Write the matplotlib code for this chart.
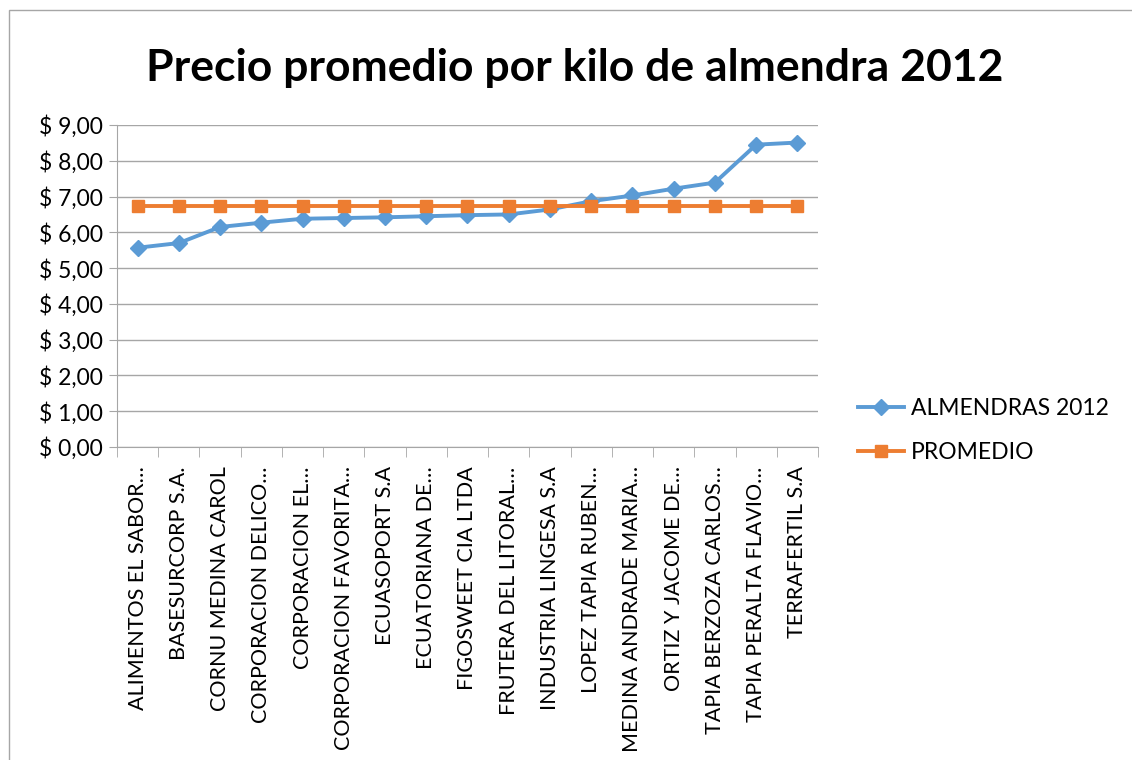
import matplotlib.pyplot as plt
import numpy as np
from matplotlib.patches import Rectangle

plt.rcParams['font.family'] = ['Lato', 'DejaVu Sans']

empresas = ["ALIMENTOS EL SABOR…", "BASESURCORP S.A.", "CORNU MEDINA CAROL",
            "CORPORACION DELICO…", "CORPORACION EL…", "CORPORACION FAVORITA…",
            "ECUASOPORT S.A", "ECUATORIANA DE…", "FIGOSWEET CIA LTDA",
            "FRUTERA DEL LITORAL…", "INDUSTRIA LINGESA S.A", "LOPEZ TAPIA RUBEN…",
            "MEDINA ANDRADE MARIA…", "ORTIZ Y JACOME DE…", "TAPIA BERZOZA CARLOS…",
            "TAPIA PERALTA FLAVIO…", "TERRAFERTIL S.A"]
almendras = [5.57, 5.70, 6.15, 6.27, 6.38, 6.40, 6.42, 6.45, 6.48,
             6.50, 6.64, 6.87, 7.03, 7.22, 7.39, 8.45, 8.51]
promedio = [6.73] * len(empresas)
yticks = [0, 1, 2, 3, 4, 5, 6, 7, 8, 9]
ylabels = ["$ %d,00" % v for v in yticks]

fig = plt.figure(figsize=(11.32, 7.6), dpi=100)
ax = fig.add_axes([117/1132, 1-447/760, (818-117)/1132, (447-125)/760])

x = np.arange(len(empresas))
ax.plot(x, almendras, color='#5B9BD5', lw=2.8, marker='D', ms=8,
        label='ALMENDRAS 2012', zorder=3)
ax.plot(x, promedio, color='#ED7D31', lw=2.8, marker='s', ms=9,
        label='PROMEDIO', zorder=3)

ax.set_xlim(-0.5, len(empresas) - 0.5)
ax.set_ylim(0, 9)
ax.set_yticks(yticks)
ax.set_yticklabels(ylabels, fontsize=16.5)
ax.set_xticks(x)
ax.set_xticklabels(empresas, rotation=90, fontsize=15.5)
ax.set_xticks(np.arange(-0.5, len(empresas)), minor=True)
ax.tick_params(axis='x', which='major', length=0, pad=14)
ax.tick_params(axis='x', which='minor', length=7, color='#A6A6A6')
ax.tick_params(axis='y', length=6, color='#A6A6A6', pad=4)
ax.grid(axis='y', color='#A6A6A6', lw=1)
ax.set_axisbelow(True)
for s in ['top', 'right']:
    ax.spines[s].set_visible(False)
for s in ['left', 'bottom']:
    ax.spines[s].set_color('#A6A6A6')

fig.text(575/1132, 1-68/760, 'Precio promedio por kilo de almendra 2012',
         ha='center', va='center', fontsize=32, fontweight='bold')

leg = fig.legend(loc='upper left', bbox_to_anchor=(858/1132, 1-398/760),
                 frameon=False, fontsize=16.5, handlelength=2.0,
                 labelspacing=1.0, handletextpad=0.3, borderaxespad=0,
                 borderpad=0)

fig.patches.append(Rectangle((9/1132, -0.1), 1.2, 0.1 + 1-10/760,
                             transform=fig.transFigure, fill=False,
                             edgecolor='#A6A6A6', lw=1))

fig.savefig('out.png', dpi=100)
